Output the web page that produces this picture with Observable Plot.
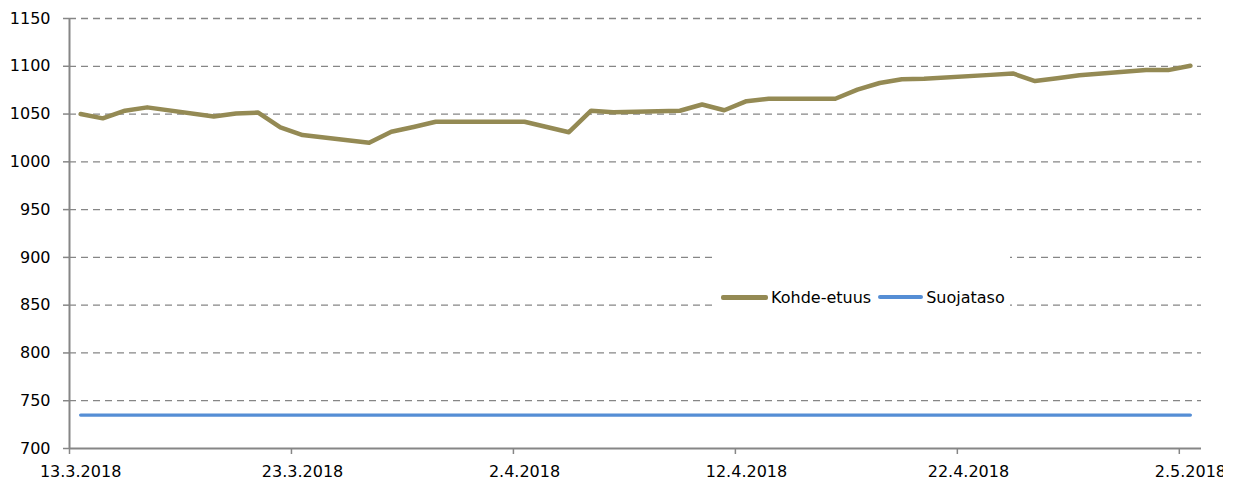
<!DOCTYPE html>
<html>
<head>
<meta charset="utf-8">
<script src="https://cdn.jsdelivr.net/npm/d3@7"></script>
<script src="https://cdn.jsdelivr.net/npm/@observablehq/plot@0.6"></script>
<style>
  html, body { margin: 0; padding: 0; background: #fff; }
  #wrap { position: relative; width: 1235px; height: 483px; overflow: hidden; font-family: "DejaVu Sans", sans-serif; }
  #legend { position: absolute; left: 712px; top: 253px; width: 298px; height: 54px; background: #fff;
            display: flex; align-items: center; font-size: 16px; color: #000; padding-top: 34px; box-sizing: border-box; }
  .sw { display: inline-block; }
</style>
</head>
<body>
<div id="wrap"></div>
<script>
// ---- data ----
const dates = [
  "2018-03-13","2018-03-14","2018-03-15","2018-03-16","2018-03-19","2018-03-20","2018-03-21","2018-03-22",
  "2018-03-23","2018-03-26","2018-03-27","2018-03-28","2018-03-29","2018-04-02","2018-04-03","2018-04-04",
  "2018-04-05","2018-04-06","2018-04-09","2018-04-10","2018-04-11","2018-04-12","2018-04-13","2018-04-16",
  "2018-04-17","2018-04-18","2018-04-19","2018-04-20","2018-04-23","2018-04-24","2018-04-25","2018-04-26",
  "2018-04-27","2018-04-30","2018-05-01","2018-05-02"
];
const kohdeEtuus = [
  1050, 1045.5, 1053.5, 1057, 1047.5, 1050.5, 1051.5, 1036,
  1028, 1020, 1031.5, 1036.5, 1042, 1042, 1036.5, 1031,
  1053.5, 1052, 1053.5, 1060, 1054, 1063.5, 1066, 1066,
  1075.5, 1082.5, 1086.5, 1087, 1091, 1092.5, 1084.5, 1087.5,
  1090.5, 1096, 1096, 1100.5
];
const suojataso = [
  735, 735, 735, 735, 735, 735, 735, 735,
  735, 735, 735, 735, 735, 735, 735, 735,
  735, 735, 735, 735, 735, 735, 735, 735,
  735, 735, 735, 735, 735, 735, 735, 735,
  735, 735, 735, 735
];
const xTickDates = ["2018-03-13","2018-03-23","2018-04-02","2018-04-12","2018-04-22","2018-05-02"];
const yTicks = [700, 750, 800, 850, 900, 950, 1000, 1050, 1100, 1150];
const xDomain = ["2018-03-13", "2018-05-03"];
const seriesNames = ["Kohde-etuus", "Suojataso"];
const seriesColors = ["#948A54", "#558ED5"];

// ---- build ----
const noon = s => new Date(s + "T12:00:00Z");
const midnight = s => new Date(s + "T00:00:00Z");
const rows1 = dates.map((d, i) => ({date: noon(d), value: kohdeEtuus[i]}));
const rows2 = dates.map((d, i) => ({date: noon(d), value: suojataso[i]}));
const fmt = d => `${d.getUTCDate()}.${d.getUTCMonth() + 1}.${d.getUTCFullYear()}`;
const axisGray = "#868686";

const chart = Plot.plot({
  width: 1223,
  height: 483,
  marginLeft: 69,
  marginRight: 22,
  marginTop: 18,
  marginBottom: 35,
  style: {fontFamily: "DejaVu Sans, sans-serif", fontSize: "16px", color: "#000", background: "#fff"},
  x: {type: "utc", domain: xDomain.map(midnight), axis: null},
  y: {domain: [700, 1150], axis: null},
  marks: [
    Plot.gridY(yTicks.filter(v => v > 700), {stroke: axisGray, strokeOpacity: 1, strokeWidth: 1.3, strokeDasharray: "7,5"}),
    Plot.ruleY([700], {stroke: axisGray, strokeWidth: 2}),
    Plot.ruleX([midnight(xDomain[0])], {stroke: axisGray, strokeWidth: 2}),
    Plot.axisY(yTicks, {tickSize: 6, tickPadding: 13, stroke: axisGray, strokeWidth: 1.5, fill: "#000", fontSize: 16, label: null, tickFormat: d => String(d)}),
    Plot.axisX(xTickDates.map(midnight), {tickSize: 6, stroke: axisGray, strokeWidth: 1.5, tickFormat: () => "", label: null}),
    Plot.axisX(xTickDates.map(noon), {tickSize: 0, tickPadding: 17, fill: "#000", fontSize: 16, tickFormat: fmt, label: null}),
    Plot.line(rows2, {x: "date", y: "value", stroke: seriesColors[1], strokeWidth: 3.2}),
    Plot.line(rows1, {x: "date", y: "value", stroke: seriesColors[0], strokeWidth: 4.5, strokeLinejoin: "round"})
  ]
});

const wrap = document.getElementById("wrap");
wrap.appendChild(chart);

// legend (inside plot area, white box covering gridlines)
const legend = document.createElement("div");
legend.id = "legend";
const swW = [47, 45], swH = [5, 3.2], gapBefore = [9, 7];
seriesNames.forEach((name, i) => {
  const sw = document.createElement("span");
  sw.className = "sw";
  sw.style.width = swW[i] + "px";
  sw.style.height = swH[i] + "px";
  sw.style.background = seriesColors[i];
  sw.style.borderRadius = "2px";
  sw.style.marginLeft = gapBefore[i] + "px";
  sw.style.marginRight = "3px";
  const t = document.createElement("span");
  t.textContent = name;
  legend.appendChild(sw);
  legend.appendChild(t);
});
wrap.appendChild(legend);
</script>
</body>
</html>
